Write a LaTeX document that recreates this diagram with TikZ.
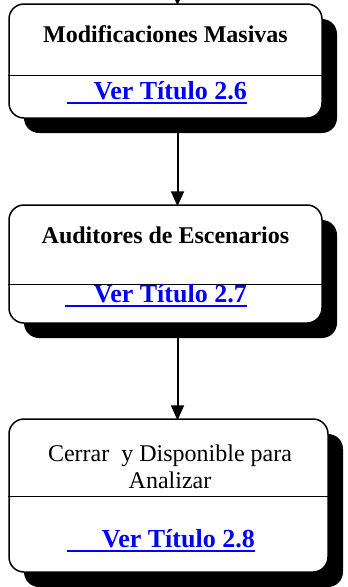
\documentclass[tikz,border=0pt]{standalone}
\usepackage{fontspec}
\setmainfont{Liberation Serif}
\usetikzlibrary{arrows.meta,shadows}
\definecolor{linkblue}{RGB}{0,0,255}
\newcommand\linkline[1]{\setbox0\hbox{#1}\rlap{\rule[-4.5pt]{\wd0}{2pt}}\box0}

\begin{document}
\begin{tikzpicture}[x=1pt, y=-1pt,
    stage/.style={draw, line width=1.5pt, rounded corners=15pt, fill=white, inner sep=0pt,
      drop shadow={shadow xshift=15pt, shadow yshift=-15pt, fill=black, opacity=1}},
    boxtitle/.style={font=\fontsize{24}{27}\selectfont\bfseries, anchor=base, inner sep=0pt},
    link/.style={font=\fontsize{26}{28}\selectfont\bfseries, text=linkblue, anchor=base east, inner sep=0pt},
    flow/.style={line width=2pt, -{Triangle[length=15pt,width=13pt]}}]
    \useasboundingbox (0,0) rectangle (348,587);
    % Nodes
    \node[stage, minimum width=313pt, minimum height=114pt] (modif) at (165.5,61) {};
    \node[stage, minimum width=313pt, minimum height=118pt] (audit) at (165.5,264) {};
    \node[stage, minimum width=319pt, minimum height=153pt] (cerrar) at (168.5,495.5) {};
    \coordinate (in) at (177.5,-12);
    % Dividers
    \draw[line width=1pt] ([yshift=-72pt]modif.north west) -- ([yshift=-72pt]modif.north east);
    \draw[line width=1pt] ([yshift=-80pt]audit.north west) -- ([yshift=-80pt]audit.north east);
    \draw[line width=1pt] ([yshift=-78pt]cerrar.north west) -- ([yshift=-78pt]cerrar.north east);
    % Texts
    \node[boxtitle] (t1) at (165.5,42) {Modificaciones Masivas};
    \node[link] (l1) at (247,99) {\linkline{\hspace*{27pt}Ver Título 2.6}};
    \node[boxtitle] (t2) at (165.5,243) {Auditores de Escenarios};
    \node[link] (l2) at (247,302) {\linkline{\hspace*{29pt}Ver Título 2.7}};
    \node[font=\fontsize{24}{27}\selectfont, align=center, inner sep=0pt] (t3) at (170,467) {Cerrar\ \ y Disponible para\\Analizar};
    \node[link] (l3) at (255,547) {\linkline{\hspace*{35pt}Ver Título 2.8}};
    % Arrows
    \draw[flow] (in) -- ([yshift=-2pt]in |- modif.north);
    \draw[flow] (in |- modif.south) -- ([yshift=-2pt]in |- audit.north);
    \draw[flow] (in |- audit.south) -- ([yshift=-2pt]in |- cerrar.north);
\end{tikzpicture}
\end{document}
